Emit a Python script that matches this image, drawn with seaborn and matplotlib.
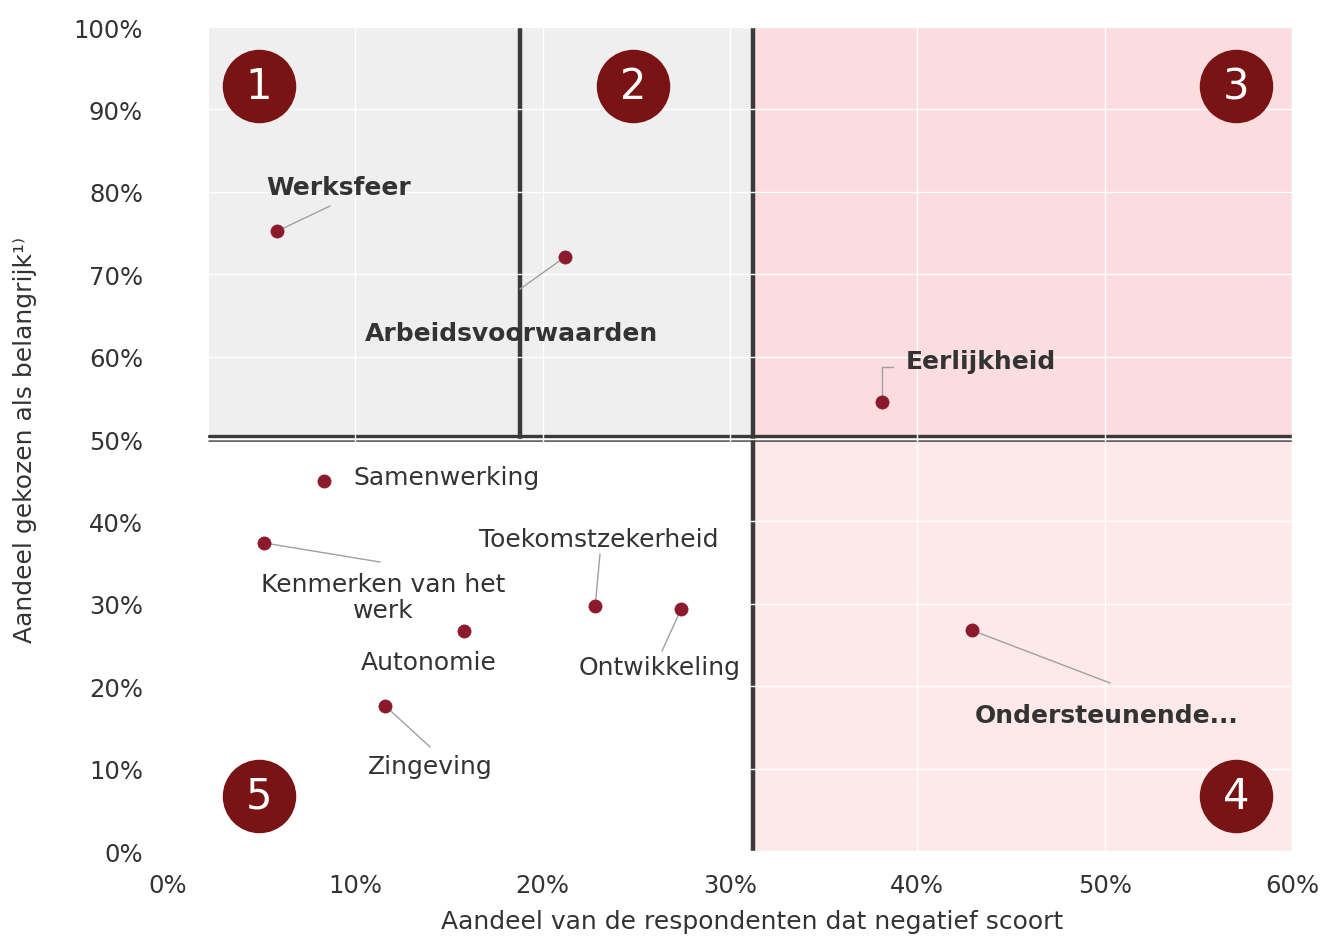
import matplotlib
matplotlib.use("Agg")
import matplotlib.pyplot as plt
import seaborn as sns
import pandas as pd
import numpy as np
from matplotlib.ticker import PercentFormatter

# ---------------- data ----------------
items = ["Werksfeer", "Arbeidsvoorwaarden", "Eerlijkheid", "Samenwerking",
         "Kenmerken van het\nwerk", "Toekomstzekerheid", "Ontwikkeling",
         "Autonomie", "Zingeving", "Ondersteunende..."]
negatief = [5.8, 21.2, 38.1, 8.3, 5.1, 22.8, 27.4, 15.8, 11.6, 42.9]
belangrijk = [75.2, 72.1, 54.5, 44.9, 37.4, 29.7, 29.4, 26.7, 17.6, 26.8]
bold_items = ["Werksfeer", "Arbeidsvoorwaarden", "Eerlijkheid", "Ondersteunende..."]

x_ticks = [0, 10, 20, 30, 40, 50, 60]
y_ticks = [0, 10, 20, 30, 40, 50, 60, 70, 80, 90, 100]
badge_numbers = ["1", "2", "3", "4", "5"]

# ---------------- layout ----------------
x_split_main = 31.25
x_split_upper = 18.8
y_split = 50
x_start = 2.2
badge_x = [4.86, 24.82, 57.0, 57.0, 4.86]
badge_y = [92.8, 92.8, 92.8, 6.7, 6.7]

# label offset (dx, dy) from point and leader polyline offsets
label_off = {
    "Werksfeer": (3.33, 5.38),
    "Arbeidsvoorwaarden": (-2.84, -9.24),
    "Eerlijkheid": (5.3, 4.97),
    "Samenwerking": (6.54, 0.49),
    "Kenmerken van het\nwerk": (6.38, -6.57),
    "Toekomstzekerheid": (0.2, 8.16),
    "Ontwikkeling": (-1.14, -7.07),
    "Autonomie": (-1.87, -3.76),
    "Zingeving": (2.39, -7.28),
    "Ondersteunende...": (7.22, -10.32),
}
leader_off = {
    "Werksfeer": [(2.85, 3.08)],
    "Arbeidsvoorwaarden": [(-2.41, -3.9)],
    "Eerlijkheid": [(0, 4.24), (0.6, 4.24)],
    "Kenmerken van het\nwerk": [(6.22, -2.33)],
    "Toekomstzekerheid": [(0.26, 6.34)],
    "Ontwikkeling": [(-1.03, -5.13)],
    "Zingeving": [(2.39, -4.98)],
    "Ondersteunende...": [(7.39, -6.41)],
}

df = pd.DataFrame({"item": items, "neg": negatief, "imp": belangrijk})

sns.set_theme(style="white")
plt.rcParams["font.family"] = ["DejaVu Sans"]

DARK_RED = "#8a1a2c"
BADGE_RED = "#7a1414"
LINE_DARK = "#3a3a3a"
TEXT = "#333333"

fig = plt.figure(figsize=(13.22, 9.37), dpi=100)
ax = fig.add_axes([0.1271, 0.0907, 0.8502, 0.8794])
ax.set_xlim(0, 60)
ax.set_ylim(0, 100)

# quadrant shading
ax.fill_between([x_start, x_split_main], y_split, 100, color="#efefef", lw=0, zorder=0.2)
ax.fill_between([x_split_main, 60], y_split, 100, color="#fbdcdf", lw=0, zorder=0.2)
ax.fill_between([x_split_main, 60], 0, y_split, color="#fde9ea", lw=0, zorder=0.2)

# dividing lines
ax.plot([x_split_main, x_split_main], [0, 100], color=LINE_DARK, lw=3.2, zorder=1.5,
        solid_capstyle="butt")
ax.plot([x_split_upper, x_split_upper], [y_split, 100], color=LINE_DARK, lw=3.2, zorder=1.5,
        solid_capstyle="butt")
ax.plot([x_start, 60], [y_split + 0.35, y_split + 0.35], color=LINE_DARK, lw=2.4, zorder=1.5)
ax.plot([x_start, 60], [y_split - 0.3, y_split - 0.3], color=LINE_DARK, lw=1.1, zorder=1.5)

# white grid on top of shading
ax.set_xticks(x_ticks)
ax.set_yticks(y_ticks)
ax.grid(True, color="white", lw=1.0, zorder=2)
ax.set_axisbelow(False)
for gl in ax.get_xgridlines() + ax.get_ygridlines():
    gl.set_zorder(2)

# scatter
sns.scatterplot(data=df, x="neg", y="imp", ax=ax, color=DARK_RED, s=90,
                edgecolor=DARK_RED, linewidth=0.5, zorder=4, legend=False)

# labels & leaders
for name, px, py in zip(items, negatief, belangrijk):
    dx, dy = label_off[name]
    if name in leader_off:
        xs = [px] + [px + ox for ox, oy in leader_off[name]]
        ys = [py] + [py + oy for ox, oy in leader_off[name]]
        ax.plot(xs, ys, color="#a0a0a0", lw=1.0, zorder=3)
    ax.text(px + dx, py + dy, name, ha="center", va="center", fontsize=18,
            color=TEXT, fontweight="bold" if name in bold_items else "normal",
            linespacing=1.1, zorder=5)

# badges
ax.scatter(badge_x, badge_y, s=2800, color=BADGE_RED, zorder=5, linewidths=0)
for bx, by, num in zip(badge_x, badge_y, badge_numbers):
    ax.text(bx, by, num, ha="center", va="center", color="white", fontsize=30, zorder=6)

# axes styling
for sp in ax.spines.values():
    sp.set_visible(False)
ax.xaxis.set_major_formatter(PercentFormatter(decimals=0))
ax.yaxis.set_major_formatter(PercentFormatter(decimals=0))
ax.tick_params(axis="both", length=0, labelsize=17.5, colors=TEXT)
ax.tick_params(axis="x", pad=16)
ax.tick_params(axis="y", pad=18)

ax.set_xlabel("Aandeel van de respondenten dat negatief scoort", fontsize=18, color=TEXT)
ax.xaxis.set_label_coords(0.52, -0.085)
ax.xaxis.label.set_va("center")
ax.set_ylabel("Aandeel gekozen als belangrijk¹⁾", fontsize=18, color=TEXT)
ax.yaxis.set_label_coords(-0.127, 0.50)
ax.yaxis.label.set_va("center")

fig.savefig("out.png", dpi=100, facecolor="white")
